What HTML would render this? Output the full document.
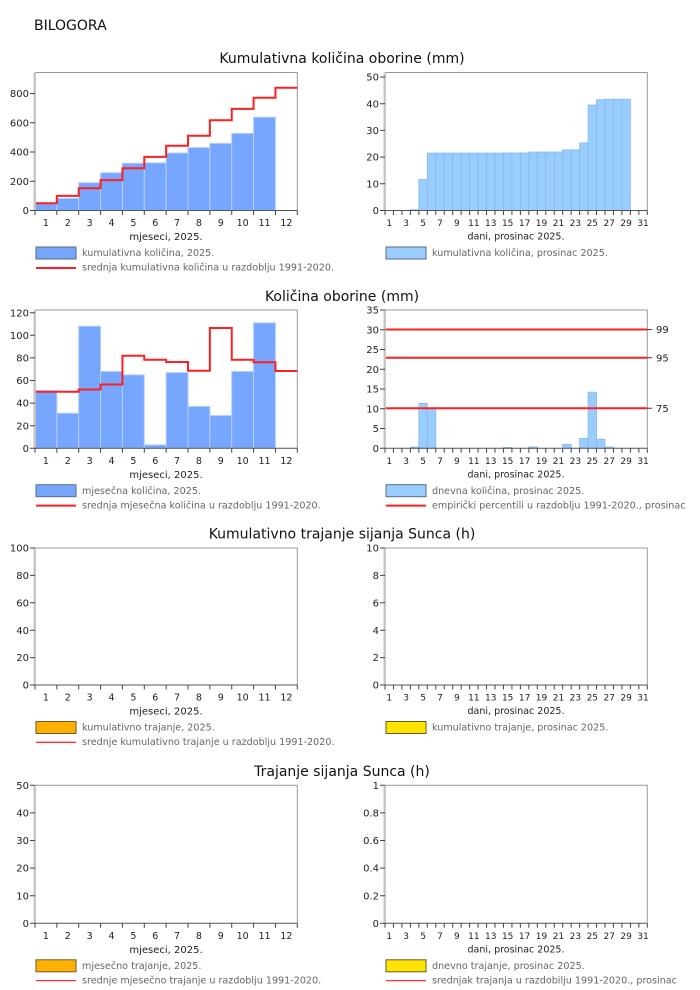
<!DOCTYPE html>
<html><head><meta charset="utf-8"><style>
html,body{margin:0;padding:0;background:#fff;}
svg{display:block;}
text{font-family:"DejaVu Sans","Liberation Sans",sans-serif;}
.yl{font-size:10px;fill:#222;text-anchor:end;}
.pl{font-size:10px;fill:#222;}
.xl{font-size:9.5px;fill:#222;text-anchor:middle;}
.dl{font-size:9px;fill:#222;text-anchor:middle;}
.at{font-size:10px;fill:#222;text-anchor:middle;}
.at2{font-size:9.5px;fill:#222;text-anchor:middle;}
.lg{font-size:9.6px;fill:#666;}
.tt{font-size:14px;fill:#111;text-anchor:middle;}
.fr{fill:none;stroke:#999;stroke-width:1;}
.lax{stroke:#c4c4c4;stroke-width:2.4;}
.bax{stroke:#555;stroke-width:1;fill:none;}
.tk{stroke:#444;stroke-width:1;fill:none;}
.b1{fill:#77a6ff;stroke:#b3ceff;stroke-width:1;}
.b2{fill:#99ccff;stroke:#86b8f2;stroke-width:0.8;}
.red{fill:none;stroke:#ff1f1f;stroke-width:2;}
.redt{fill:none;stroke:#ff3030;stroke-width:1.3;}
</style></head><body>
<svg width="700" height="990" viewBox="0 0 700 990">
<text x="34" y="30" style="font-size:14px;fill:#111">BILOGORA</text>

<!-- ================= ROW 1 ================= -->
<text class="tt" x="342" y="63">Kumulativna količina oborine (mm)</text>

<!-- Row1 left -->
<path class="fr" d="M35 72.5 H297.3 V210.5"/>
<rect class="b1" x="35" y="203.04" width="21.86" height="7.46"/>
<rect class="b1" x="56.86" y="198.51" width="21.86" height="11.99"/>
<rect class="b1" x="78.72" y="182.71" width="21.86" height="27.79"/>
<rect class="b1" x="100.57" y="172.77" width="21.86" height="37.73"/>
<rect class="b1" x="122.43" y="163.26" width="21.86" height="47.24"/>
<rect class="b1" x="144.29" y="162.82" width="21.86" height="47.68"/>
<rect class="b1" x="166.15" y="153.02" width="21.86" height="57.48"/>
<rect class="b1" x="188.01" y="147.61" width="21.86" height="62.89"/>
<rect class="b1" x="209.86" y="143.37" width="21.86" height="67.13"/>
<rect class="b1" x="231.72" y="133.43" width="21.86" height="77.07"/>
<rect class="b1" x="253.58" y="117.19" width="21.86" height="93.31"/>
<path class="red" d="M35 203.19 H56.86 V195.88 H78.72 V188.27 H100.57 V180.08 H122.43 V168.23 H144.29 V156.83 H166.15 V145.71 H188.01 V135.77 H209.86 V120.26 H231.72 V108.85 H253.58 V97.74 H275.44 V87.8 H297.3"/>
<line class="lax" x1="34.7" y1="72.5" x2="34.7" y2="210.5"/>
<path class="bax" d="M35 210.5 H297.3"/>
<path class="tk" d="M35 210.5 v4.5 m21.858 -4.5 v4.5 m21.858 -4.5 v4.5 m21.858 -4.5 v4.5 m21.858 -4.5 v4.5 m21.858 -4.5 v4.5 m21.858 -4.5 v4.5 m21.858 -4.5 v4.5 m21.858 -4.5 v4.5 m21.858 -4.5 v4.5 m21.858 -4.5 v4.5 m21.858 -4.5 v4.5 m21.858 -4.5 v4.5"/>
<path class="tk" d="M30 210.5 h5 M30 181.25 h5 M30 152 h5 M30 122.75 h5 M30 93.5 h5"/>
<text class="yl" x="29" y="214.1">0</text>
<text class="yl" x="29" y="184.85">200</text>
<text class="yl" x="29" y="155.6">400</text>
<text class="yl" x="29" y="126.35">600</text>
<text class="yl" x="29" y="97.1">800</text>
<g class="xl">
<text class="xl" x="45.93" y="226">1</text><text class="xl" x="67.79" y="226">2</text><text class="xl" x="89.65" y="226">3</text><text class="xl" x="111.5" y="226">4</text><text class="xl" x="133.36" y="226">5</text><text class="xl" x="155.22" y="226">6</text><text class="xl" x="177.08" y="226">7</text><text class="xl" x="198.94" y="226">8</text><text class="xl" x="220.79" y="226">9</text><text class="xl" x="242.65" y="226">10</text><text class="xl" x="264.51" y="226">11</text><text class="xl" x="286.37" y="226">12</text>
</g>
<text class="at" x="166" y="240">mjeseci, 2025.</text>
<rect x="36" y="247" width="40" height="12" fill="#77a6ff" stroke="#5a6a88" stroke-width="1"/>
<text class="lg" x="82" y="256">kumulativna količina, 2025.</text>
<line x1="36" y1="268" x2="76" y2="268" class="red"/>
<text class="lg" x="82" y="270.5">srednja kumulativna količina u razdoblju 1991-2020.</text>

<!-- Row1 right -->
<path class="fr" d="M385 72.5 H647.3 V210.5"/>
<rect class="b2" x="410.38" y="209.7" width="8.46" height="0.8"/>
<rect class="b2" x="418.85" y="179.53" width="8.46" height="30.97"/>
<rect class="b2" x="427.31" y="153.1" width="8.46" height="57.4"/>
<rect class="b2" x="435.77" y="153.1" width="8.46" height="57.4"/>
<rect class="b2" x="444.23" y="153.1" width="8.46" height="57.4"/>
<rect class="b2" x="452.69" y="153.1" width="8.46" height="57.4"/>
<rect class="b2" x="461.15" y="153.1" width="8.46" height="57.4"/>
<rect class="b2" x="469.61" y="153.1" width="8.46" height="57.4"/>
<rect class="b2" x="478.07" y="153.1" width="8.46" height="57.4"/>
<rect class="b2" x="486.54" y="153.1" width="8.46" height="57.4"/>
<rect class="b2" x="495.00" y="153.1" width="8.46" height="57.4"/>
<rect class="b2" x="503.46" y="153.0" width="8.46" height="57.5"/>
<rect class="b2" x="511.92" y="153.0" width="8.46" height="57.5"/>
<rect class="b2" x="520.38" y="153.0" width="8.46" height="57.5"/>
<rect class="b2" x="528.84" y="152.03" width="8.46" height="58.47"/>
<rect class="b2" x="537.30" y="152.03" width="8.46" height="58.47"/>
<rect class="b2" x="545.76" y="152.03" width="8.46" height="58.47"/>
<rect class="b2" x="554.23" y="152.03" width="8.46" height="58.47"/>
<rect class="b2" x="562.69" y="149.89" width="8.46" height="60.61"/>
<rect class="b2" x="571.15" y="149.89" width="8.46" height="60.61"/>
<rect class="b2" x="579.61" y="142.95" width="8.46" height="67.55"/>
<rect class="b2" x="588.07" y="105.04" width="8.46" height="105.46"/>
<rect class="b2" x="596.53" y="99.7" width="8.46" height="110.8"/>
<rect class="b2" x="605.00" y="99.16" width="8.46" height="111.34"/>
<rect class="b2" x="613.45" y="99.16" width="8.46" height="111.34"/>
<rect class="b2" x="621.92" y="99.16" width="8.46" height="111.34"/>
<line class="lax" x1="384.7" y1="72.5" x2="384.7" y2="210.5"/>
<path class="bax" d="M385 210.5 H647.3"/>
<path class="tk" d="M385 210.5 v4.5 m8.4613 -4.5 v4.5 m8.4613 -4.5 v4.5 m8.4613 -4.5 v4.5 m8.4613 -4.5 v4.5 m8.4613 -4.5 v4.5 m8.4613 -4.5 v4.5 m8.4613 -4.5 v4.5 m8.4613 -4.5 v4.5 m8.4613 -4.5 v4.5 m8.4613 -4.5 v4.5 m8.4613 -4.5 v4.5 m8.4613 -4.5 v4.5 m8.4613 -4.5 v4.5 m8.4613 -4.5 v4.5 m8.4613 -4.5 v4.5 m8.4613 -4.5 v4.5 m8.4613 -4.5 v4.5 m8.4613 -4.5 v4.5 m8.4613 -4.5 v4.5 m8.4613 -4.5 v4.5 m8.4613 -4.5 v4.5 m8.4613 -4.5 v4.5 m8.4613 -4.5 v4.5 m8.4613 -4.5 v4.5 m8.4613 -4.5 v4.5 m8.4613 -4.5 v4.5 m8.4613 -4.5 v4.5 m8.4613 -4.5 v4.5 m8.4613 -4.5 v4.5 m8.4613 -4.5 v4.5 m8.4613 -4.5 v4.5"/>
<path class="tk" d="M380 210.5 h5 M380 183.8 h5 M380 157.1 h5 M380 130.4 h5 M380 103.7 h5 M380 77 h5"/>
<text class="yl" x="379" y="214.1">0</text>
<text class="yl" x="379" y="187.4">10</text>
<text class="yl" x="379" y="160.7">20</text>
<text class="yl" x="379" y="134">30</text>
<text class="yl" x="379" y="107.3">40</text>
<text class="yl" x="379" y="80.6">50</text>
<text class="dl" x="389.23" y="226">1</text><text class="dl" x="406.15" y="226">3</text><text class="dl" x="423.08" y="226">5</text><text class="dl" x="440" y="226">7</text><text class="dl" x="456.92" y="226">9</text><text class="dl" x="473.84" y="226">11</text><text class="dl" x="490.77" y="226">13</text><text class="dl" x="507.69" y="226">15</text><text class="dl" x="524.61" y="226">17</text><text class="dl" x="541.53" y="226">19</text><text class="dl" x="558.46" y="226">21</text><text class="dl" x="575.38" y="226">23</text><text class="dl" x="592.3" y="226">25</text><text class="dl" x="609.22" y="226">27</text><text class="dl" x="626.15" y="226">29</text><text class="dl" x="643.07" y="226">31</text>
<text class="at2" x="516" y="239.5">dani, prosinac 2025.</text>
<rect x="386" y="247" width="40" height="12" fill="#99ccff" stroke="#5a6a88" stroke-width="1"/>
<text class="lg" x="432" y="256">kumulativna količina, prosinac 2025.</text>

<!-- ================= ROW 2 ================= -->
<text class="tt" x="342" y="301">Količina oborine (mm)</text>

<!-- Row2 left -->
<path class="fr" d="M35 310 H297.3 V448.3"/>
<rect class="b1" x="35" y="390.67" width="21.86" height="57.63"/>
<rect class="b1" x="56.86" y="413.27" width="21.86" height="35.03"/>
<rect class="b1" x="78.72" y="326.26" width="21.86" height="122.04"/>
<rect class="b1" x="100.57" y="371.46" width="21.86" height="76.84"/>
<rect class="b1" x="122.43" y="374.85" width="21.86" height="73.45"/>
<rect class="b1" x="144.29" y="444.91" width="21.86" height="3.39"/>
<rect class="b1" x="166.15" y="372.59" width="21.86" height="75.71"/>
<rect class="b1" x="188.01" y="406.49" width="21.86" height="41.81"/>
<rect class="b1" x="209.86" y="415.53" width="21.86" height="32.77"/>
<rect class="b1" x="231.72" y="371.46" width="21.86" height="76.84"/>
<rect class="b1" x="253.58" y="322.87" width="21.86" height="125.43"/>
<path class="red" d="M35 391.8 H78.72 V389.5 H100.57 V384.5 H122.43 V355.7 H144.29 V359.7 H166.15 V362 H188.01 V370.7 H209.86 V328 H231.72 V359.7 H253.58 V362.3 H275.44 V371 H297.3"/>
<line class="lax" x1="34.7" y1="310" x2="34.7" y2="448.3"/>
<path class="bax" d="M35 448.3 H297.3"/>
<path class="tk" d="M35 448.3 v4.5 m21.858 -4.5 v4.5 m21.858 -4.5 v4.5 m21.858 -4.5 v4.5 m21.858 -4.5 v4.5 m21.858 -4.5 v4.5 m21.858 -4.5 v4.5 m21.858 -4.5 v4.5 m21.858 -4.5 v4.5 m21.858 -4.5 v4.5 m21.858 -4.5 v4.5 m21.858 -4.5 v4.5 m21.858 -4.5 v4.5"/>
<path class="tk" d="M30 448.3 h5 M30 425.7 h5 M30 403.1 h5 M30 380.5 h5 M30 357.9 h5 M30 335.3 h5 M30 312.7 h5"/>
<text class="yl" x="29" y="451.9">0</text>
<text class="yl" x="29" y="429.3">20</text>
<text class="yl" x="29" y="406.7">40</text>
<text class="yl" x="29" y="384.1">60</text>
<text class="yl" x="29" y="361.5">80</text>
<text class="yl" x="29" y="338.9">100</text>
<text class="yl" x="29" y="316.3">120</text>
<text class="xl" x="45.93" y="463.8">1</text><text class="xl" x="67.79" y="463.8">2</text><text class="xl" x="89.65" y="463.8">3</text><text class="xl" x="111.5" y="463.8">4</text><text class="xl" x="133.36" y="463.8">5</text><text class="xl" x="155.22" y="463.8">6</text><text class="xl" x="177.08" y="463.8">7</text><text class="xl" x="198.94" y="463.8">8</text><text class="xl" x="220.79" y="463.8">9</text><text class="xl" x="242.65" y="463.8">10</text><text class="xl" x="264.51" y="463.8">11</text><text class="xl" x="286.37" y="463.8">12</text>
<text class="at" x="166" y="478">mjeseci, 2025.</text>
<rect x="36" y="484.7" width="40" height="12" fill="#77a6ff" stroke="#5a6a88" stroke-width="1"/>
<text class="lg" x="82" y="493.8">mjesečna količina, 2025.</text>
<line x1="36" y1="505.6" x2="76" y2="505.6" class="red"/>
<text class="lg" x="82" y="508.3">srednja mjesečna količina u razdoblju 1991-2020.</text>

<!-- Row2 right -->
<path class="fr" d="M385 310 H647.3 V448.3"/>
<rect class="b2" x="410.38" y="447.1" width="8.46" height="1.2"/>
<rect class="b2" x="418.85" y="403.3" width="8.46" height="45"/>
<rect class="b2" x="427.31" y="408.8" width="8.46" height="39.5"/>
<rect class="b2" x="503.46" y="447.5" width="8.46" height="0.8"/>
<rect class="b2" x="528.84" y="446.9" width="8.46" height="1.4"/>
<rect class="b2" x="562.69" y="444.3" width="8.46" height="4"/>
<rect class="b2" x="579.61" y="438.4" width="8.46" height="9.9"/>
<rect class="b2" x="588.07" y="392.2" width="8.46" height="56.1"/>
<rect class="b2" x="596.53" y="439.2" width="8.46" height="9.1"/>
<rect class="b2" x="605.00" y="447.1" width="8.46" height="1.2"/>
<path class="red" d="M385 329.5 H647.3 M385 357.7 H647.3 M385 408.3 H647.3"/>
<path class="tk" d="M647.3 329.5 h5 M647.3 357.7 h5 M647.3 408.3 h5"/>
<text class="pl" x="656" y="333.1">99</text>
<text class="pl" x="656" y="361.3">95</text>
<text class="pl" x="656" y="411.9">75</text>
<line class="lax" x1="384.7" y1="310" x2="384.7" y2="448.3"/>
<path class="bax" d="M385 448.3 H647.3"/>
<path class="tk" d="M385 448.3 v4.5 m8.4613 -4.5 v4.5 m8.4613 -4.5 v4.5 m8.4613 -4.5 v4.5 m8.4613 -4.5 v4.5 m8.4613 -4.5 v4.5 m8.4613 -4.5 v4.5 m8.4613 -4.5 v4.5 m8.4613 -4.5 v4.5 m8.4613 -4.5 v4.5 m8.4613 -4.5 v4.5 m8.4613 -4.5 v4.5 m8.4613 -4.5 v4.5 m8.4613 -4.5 v4.5 m8.4613 -4.5 v4.5 m8.4613 -4.5 v4.5 m8.4613 -4.5 v4.5 m8.4613 -4.5 v4.5 m8.4613 -4.5 v4.5 m8.4613 -4.5 v4.5 m8.4613 -4.5 v4.5 m8.4613 -4.5 v4.5 m8.4613 -4.5 v4.5 m8.4613 -4.5 v4.5 m8.4613 -4.5 v4.5 m8.4613 -4.5 v4.5 m8.4613 -4.5 v4.5 m8.4613 -4.5 v4.5 m8.4613 -4.5 v4.5 m8.4613 -4.5 v4.5 m8.4613 -4.5 v4.5 m8.4613 -4.5 v4.5"/>
<path class="tk" d="M380 448.3 h5 M380 428.55 h5 M380 408.79 h5 M380 389.04 h5 M380 369.28 h5 M380 349.53 h5 M380 329.77 h5 M380 310 h5"/>
<text class="yl" x="379" y="451.9">0</text>
<text class="yl" x="379" y="432.15">5</text>
<text class="yl" x="379" y="412.4">10</text>
<text class="yl" x="379" y="392.64">15</text>
<text class="yl" x="379" y="372.88">20</text>
<text class="yl" x="379" y="353.13">25</text>
<text class="yl" x="379" y="333.37">30</text>
<text class="yl" x="379" y="313.6">35</text>
<text class="dl" x="389.23" y="463.8">1</text><text class="dl" x="406.15" y="463.8">3</text><text class="dl" x="423.08" y="463.8">5</text><text class="dl" x="440" y="463.8">7</text><text class="dl" x="456.92" y="463.8">9</text><text class="dl" x="473.84" y="463.8">11</text><text class="dl" x="490.77" y="463.8">13</text><text class="dl" x="507.69" y="463.8">15</text><text class="dl" x="524.61" y="463.8">17</text><text class="dl" x="541.53" y="463.8">19</text><text class="dl" x="558.46" y="463.8">21</text><text class="dl" x="575.38" y="463.8">23</text><text class="dl" x="592.3" y="463.8">25</text><text class="dl" x="609.22" y="463.8">27</text><text class="dl" x="626.15" y="463.8">29</text><text class="dl" x="643.07" y="463.8">31</text>
<text class="at2" x="516" y="477.5">dani, prosinac 2025.</text>
<rect x="386" y="484.7" width="40" height="12" fill="#99ccff" stroke="#5a6a88" stroke-width="1"/>
<text class="lg" x="432" y="493.8">dnevna količina, prosinac 2025.</text>
<line x1="386" y1="505.6" x2="426" y2="505.6" class="red"/>
<text class="lg" x="432" y="508.3">empirički percentili u razdoblju 1991-2020., prosinac</text>

<!-- ================= ROW 3 ================= -->
<text class="tt" x="342" y="538.5">Kumulativno trajanje sijanja Sunca (h)</text>

<!-- Row3 left -->
<path class="fr" d="M35 548 H297.3 V685"/>
<line class="lax" x1="34.7" y1="548" x2="34.7" y2="685"/>
<path class="bax" d="M35 685 H297.3"/>
<path class="tk" d="M35 685 v4.5 m21.858 -4.5 v4.5 m21.858 -4.5 v4.5 m21.858 -4.5 v4.5 m21.858 -4.5 v4.5 m21.858 -4.5 v4.5 m21.858 -4.5 v4.5 m21.858 -4.5 v4.5 m21.858 -4.5 v4.5 m21.858 -4.5 v4.5 m21.858 -4.5 v4.5 m21.858 -4.5 v4.5 m21.858 -4.5 v4.5"/>
<path class="tk" d="M30 685 h5 M30 657.6 h5 M30 630.2 h5 M30 602.8 h5 M30 575.4 h5 M30 548 h5"/>
<text class="yl" x="29" y="688.6">0</text>
<text class="yl" x="29" y="661.2">20</text>
<text class="yl" x="29" y="633.8">40</text>
<text class="yl" x="29" y="606.4">60</text>
<text class="yl" x="29" y="579">80</text>
<text class="yl" x="29" y="551.6">100</text>
<text class="xl" x="45.93" y="700.5">1</text><text class="xl" x="67.79" y="700.5">2</text><text class="xl" x="89.65" y="700.5">3</text><text class="xl" x="111.5" y="700.5">4</text><text class="xl" x="133.36" y="700.5">5</text><text class="xl" x="155.22" y="700.5">6</text><text class="xl" x="177.08" y="700.5">7</text><text class="xl" x="198.94" y="700.5">8</text><text class="xl" x="220.79" y="700.5">9</text><text class="xl" x="242.65" y="700.5">10</text><text class="xl" x="264.51" y="700.5">11</text><text class="xl" x="286.37" y="700.5">12</text>
<text class="at" x="166" y="714.5">mjeseci, 2025.</text>
<rect x="36" y="721.5" width="40" height="12" fill="#ffb000" stroke="#6b5a2a" stroke-width="1"/>
<text class="lg" x="82" y="730.5">kumulativno trajanje, 2025.</text>
<line x1="36" y1="742.3" x2="76" y2="742.3" class="redt"/>
<text class="lg" x="82" y="745">srednje kumulativno trajanje u razdoblju 1991-2020.</text>

<!-- Row3 right -->
<path class="fr" d="M385 548 H647.3 V685"/>
<line class="lax" x1="384.7" y1="548" x2="384.7" y2="685"/>
<path class="bax" d="M385 685 H647.3"/>
<path class="tk" d="M385 685 v4.5 m8.4613 -4.5 v4.5 m8.4613 -4.5 v4.5 m8.4613 -4.5 v4.5 m8.4613 -4.5 v4.5 m8.4613 -4.5 v4.5 m8.4613 -4.5 v4.5 m8.4613 -4.5 v4.5 m8.4613 -4.5 v4.5 m8.4613 -4.5 v4.5 m8.4613 -4.5 v4.5 m8.4613 -4.5 v4.5 m8.4613 -4.5 v4.5 m8.4613 -4.5 v4.5 m8.4613 -4.5 v4.5 m8.4613 -4.5 v4.5 m8.4613 -4.5 v4.5 m8.4613 -4.5 v4.5 m8.4613 -4.5 v4.5 m8.4613 -4.5 v4.5 m8.4613 -4.5 v4.5 m8.4613 -4.5 v4.5 m8.4613 -4.5 v4.5 m8.4613 -4.5 v4.5 m8.4613 -4.5 v4.5 m8.4613 -4.5 v4.5 m8.4613 -4.5 v4.5 m8.4613 -4.5 v4.5 m8.4613 -4.5 v4.5 m8.4613 -4.5 v4.5 m8.4613 -4.5 v4.5 m8.4613 -4.5 v4.5"/>
<path class="tk" d="M380 685 h5 M380 657.6 h5 M380 630.2 h5 M380 602.8 h5 M380 575.4 h5 M380 548 h5"/>
<text class="yl" x="379" y="688.6">0</text>
<text class="yl" x="379" y="661.2">2</text>
<text class="yl" x="379" y="633.8">4</text>
<text class="yl" x="379" y="606.4">6</text>
<text class="yl" x="379" y="579">8</text>
<text class="yl" x="379" y="551.6">10</text>
<text class="dl" x="389.23" y="700.5">1</text><text class="dl" x="406.15" y="700.5">3</text><text class="dl" x="423.08" y="700.5">5</text><text class="dl" x="440" y="700.5">7</text><text class="dl" x="456.92" y="700.5">9</text><text class="dl" x="473.84" y="700.5">11</text><text class="dl" x="490.77" y="700.5">13</text><text class="dl" x="507.69" y="700.5">15</text><text class="dl" x="524.61" y="700.5">17</text><text class="dl" x="541.53" y="700.5">19</text><text class="dl" x="558.46" y="700.5">21</text><text class="dl" x="575.38" y="700.5">23</text><text class="dl" x="592.3" y="700.5">25</text><text class="dl" x="609.22" y="700.5">27</text><text class="dl" x="626.15" y="700.5">29</text><text class="dl" x="643.07" y="700.5">31</text>
<text class="at2" x="516" y="714">dani, prosinac 2025.</text>
<rect x="386" y="721.5" width="40" height="12" fill="#ffe400" stroke="#6b5a2a" stroke-width="1"/>
<text class="lg" x="432" y="730.5">kumulativno trajanje, prosinac 2025.</text>

<!-- ================= ROW 4 ================= -->
<text class="tt" x="342" y="776">Trajanje sijanja Sunca (h)</text>

<!-- Row4 left -->
<path class="fr" d="M35 785.3 H297.3 V923.3"/>
<line class="lax" x1="34.7" y1="785.3" x2="34.7" y2="923.3"/>
<path class="bax" d="M35 923.3 H297.3"/>
<path class="tk" d="M35 923.3 v4.5 m21.858 -4.5 v4.5 m21.858 -4.5 v4.5 m21.858 -4.5 v4.5 m21.858 -4.5 v4.5 m21.858 -4.5 v4.5 m21.858 -4.5 v4.5 m21.858 -4.5 v4.5 m21.858 -4.5 v4.5 m21.858 -4.5 v4.5 m21.858 -4.5 v4.5 m21.858 -4.5 v4.5 m21.858 -4.5 v4.5"/>
<path class="tk" d="M30 923.3 h5 M30 895.7 h5 M30 868.1 h5 M30 840.5 h5 M30 812.9 h5 M30 785.3 h5"/>
<text class="yl" x="29" y="926.9">0</text>
<text class="yl" x="29" y="899.3">10</text>
<text class="yl" x="29" y="871.7">20</text>
<text class="yl" x="29" y="844.1">30</text>
<text class="yl" x="29" y="816.5">40</text>
<text class="yl" x="29" y="788.9">50</text>
<text class="xl" x="45.93" y="938.8">1</text><text class="xl" x="67.79" y="938.8">2</text><text class="xl" x="89.65" y="938.8">3</text><text class="xl" x="111.5" y="938.8">4</text><text class="xl" x="133.36" y="938.8">5</text><text class="xl" x="155.22" y="938.8">6</text><text class="xl" x="177.08" y="938.8">7</text><text class="xl" x="198.94" y="938.8">8</text><text class="xl" x="220.79" y="938.8">9</text><text class="xl" x="242.65" y="938.8">10</text><text class="xl" x="264.51" y="938.8">11</text><text class="xl" x="286.37" y="938.8">12</text>
<text class="at" x="166" y="952.8">mjeseci, 2025.</text>
<rect x="36" y="959.8" width="40" height="12" fill="#ffb000" stroke="#6b5a2a" stroke-width="1"/>
<text class="lg" x="82" y="968.8">mjesečno trajanje, 2025.</text>
<line x1="36" y1="980.6" x2="76" y2="980.6" class="redt"/>
<text class="lg" x="82" y="983.3">srednje mjesečno trajanje u razdoblju 1991-2020.</text>

<!-- Row4 right -->
<path class="fr" d="M385 785.3 H647.3 V923.3"/>
<line class="lax" x1="384.7" y1="785.3" x2="384.7" y2="923.3"/>
<path class="bax" d="M385 923.3 H647.3"/>
<path class="tk" d="M385 923.3 v4.5 m8.4613 -4.5 v4.5 m8.4613 -4.5 v4.5 m8.4613 -4.5 v4.5 m8.4613 -4.5 v4.5 m8.4613 -4.5 v4.5 m8.4613 -4.5 v4.5 m8.4613 -4.5 v4.5 m8.4613 -4.5 v4.5 m8.4613 -4.5 v4.5 m8.4613 -4.5 v4.5 m8.4613 -4.5 v4.5 m8.4613 -4.5 v4.5 m8.4613 -4.5 v4.5 m8.4613 -4.5 v4.5 m8.4613 -4.5 v4.5 m8.4613 -4.5 v4.5 m8.4613 -4.5 v4.5 m8.4613 -4.5 v4.5 m8.4613 -4.5 v4.5 m8.4613 -4.5 v4.5 m8.4613 -4.5 v4.5 m8.4613 -4.5 v4.5 m8.4613 -4.5 v4.5 m8.4613 -4.5 v4.5 m8.4613 -4.5 v4.5 m8.4613 -4.5 v4.5 m8.4613 -4.5 v4.5 m8.4613 -4.5 v4.5 m8.4613 -4.5 v4.5 m8.4613 -4.5 v4.5 m8.4613 -4.5 v4.5"/>
<path class="tk" d="M380 923.3 h5 M380 895.7 h5 M380 868.1 h5 M380 840.5 h5 M380 812.9 h5 M380 785.3 h5"/>
<text class="yl" x="379" y="926.9">0</text>
<text class="yl" x="379" y="899.3">0.2</text>
<text class="yl" x="379" y="871.7">0.4</text>
<text class="yl" x="379" y="844.1">0.6</text>
<text class="yl" x="379" y="816.5">0.8</text>
<text class="yl" x="379" y="788.9">1</text>
<text class="dl" x="389.23" y="938.8">1</text><text class="dl" x="406.15" y="938.8">3</text><text class="dl" x="423.08" y="938.8">5</text><text class="dl" x="440" y="938.8">7</text><text class="dl" x="456.92" y="938.8">9</text><text class="dl" x="473.84" y="938.8">11</text><text class="dl" x="490.77" y="938.8">13</text><text class="dl" x="507.69" y="938.8">15</text><text class="dl" x="524.61" y="938.8">17</text><text class="dl" x="541.53" y="938.8">19</text><text class="dl" x="558.46" y="938.8">21</text><text class="dl" x="575.38" y="938.8">23</text><text class="dl" x="592.3" y="938.8">25</text><text class="dl" x="609.22" y="938.8">27</text><text class="dl" x="626.15" y="938.8">29</text><text class="dl" x="643.07" y="938.8">31</text>
<text class="at2" x="516" y="952.3">dani, prosinac 2025.</text>
<rect x="386" y="959.8" width="40" height="12" fill="#ffe400" stroke="#6b5a2a" stroke-width="1"/>
<text class="lg" x="432" y="968.8">dnevno trajanje, prosinac 2025.</text>
<line x1="386" y1="980.6" x2="426" y2="980.6" class="redt"/>
<text class="lg" x="432" y="983.3">srednjak trajanja u razdobilju 1991-2020., prosinac</text>
</svg>
</body></html>
